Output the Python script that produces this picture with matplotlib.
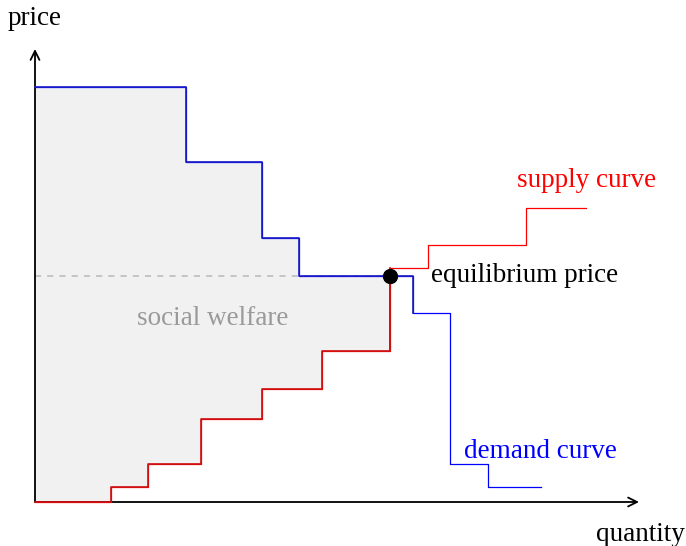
import numpy as np
import matplotlib.pyplot as plt

plt.rcParams['font.family'] = ['Liberation Serif', 'DejaVu Serif']

# step curves: quantity breakpoints and the price on each step
demand_q = [0, 4, 6, 7, 10, 11, 12, 13.4]
demand_p = [11, 9, 7, 6, 5, 1, 0.4]
supply_q = [0, 2, 3, 4.4, 6, 7.6, 9.4, 10.4, 13, 14.6]
supply_p = [0, 0.4, 1, 2.2, 3, 4, 6.2, 6.8, 7.8]
eq_q, eq_p = 9.4, 6

def step_at(qs, ps, x):
    i = np.searchsorted(qs, x, side='right') - 1
    i = np.clip(i, 0, len(ps) - 1)
    return np.asarray(ps)[i]

fig = plt.figure(figsize=(6.86, 5.46), dpi=100)
ax = fig.add_axes([0, 0, 1, 1])
s = 37.75
ax.set_xlim(-35 / s, 651 / s)
ax.set_ylim(-44 / s, 502 / s)
ax.axis('off')

# social welfare region
grid = np.array(sorted(set([q for q in demand_q + supply_q if q <= eq_q])))
ax.fill_between(grid, step_at(supply_q, supply_p, grid), step_at(demand_q, demand_p, grid),
                step='post', color='#f1f1f1', lw=0, zorder=1)

# dashed price line
ax.plot([0, eq_q], [eq_p, eq_p], color='#b8b8b8', lw=1.1, ls=(0, (4, 4)), zorder=2)

# axes with arrows
ax.annotate('', xy=(16, 0), xytext=(0, 0),
            arrowprops=dict(arrowstyle='->', color='black', lw=1.3, shrinkA=0, shrinkB=0,
                            mutation_scale=16), zorder=3)
ax.annotate('', xy=(0, 12), xytext=(0, 0),
            arrowprops=dict(arrowstyle='->', color='black', lw=1.3, shrinkA=0, shrinkB=0,
                            mutation_scale=16), zorder=3)

# demand curve
dx = np.array(demand_q)
dy = np.array(demand_p + [demand_p[-1]])
ax.step(dx, dy, where='post', color='#0000ff', lw=0.9, zorder=4)
m = dx <= 10
ax.step(dx[m], dy[m], where='post', color='#1c1cc4', lw=1.2, zorder=4)

# supply curve
sx = np.array(supply_q)
sy = np.array(supply_p + [supply_p[-1]])
ax.step(sx, sy, where='post', color='#ff0000', lw=0.9, zorder=4)
m = sx <= eq_q
ax.step(sx[m], sy[m], where='post', color='#cc1111', lw=1.2, zorder=4)
ax.plot([eq_q, eq_q], [supply_p[5], eq_p], color='#cc1111', lw=1.2, zorder=4)

ax.plot(eq_q, eq_p, 'o', color='black', ms=10, zorder=5)

fs = 19.5
ax.text(0, 12.82, 'price', fontsize=fs, ha='center', va='center')
ax.text(16.05, -0.85, 'quantity', fontsize=fs, ha='center', va='center')
ax.text(10.5, eq_p, 'equilibrium price', fontsize=fs, ha='left', va='center')
ax.text(14.6, 8.52, 'supply curve', fontsize=fs, ha='center', va='center', color='#ff0000')
ax.text(13.4, 1.35, 'demand curve', fontsize=fs, ha='center', va='center', color='#0000ff')
ax.text(4.7, 4.85, 'social welfare', fontsize=fs, ha='center', va='center', color='#9a9a9a')

fig.savefig('out.png', dpi=100)
